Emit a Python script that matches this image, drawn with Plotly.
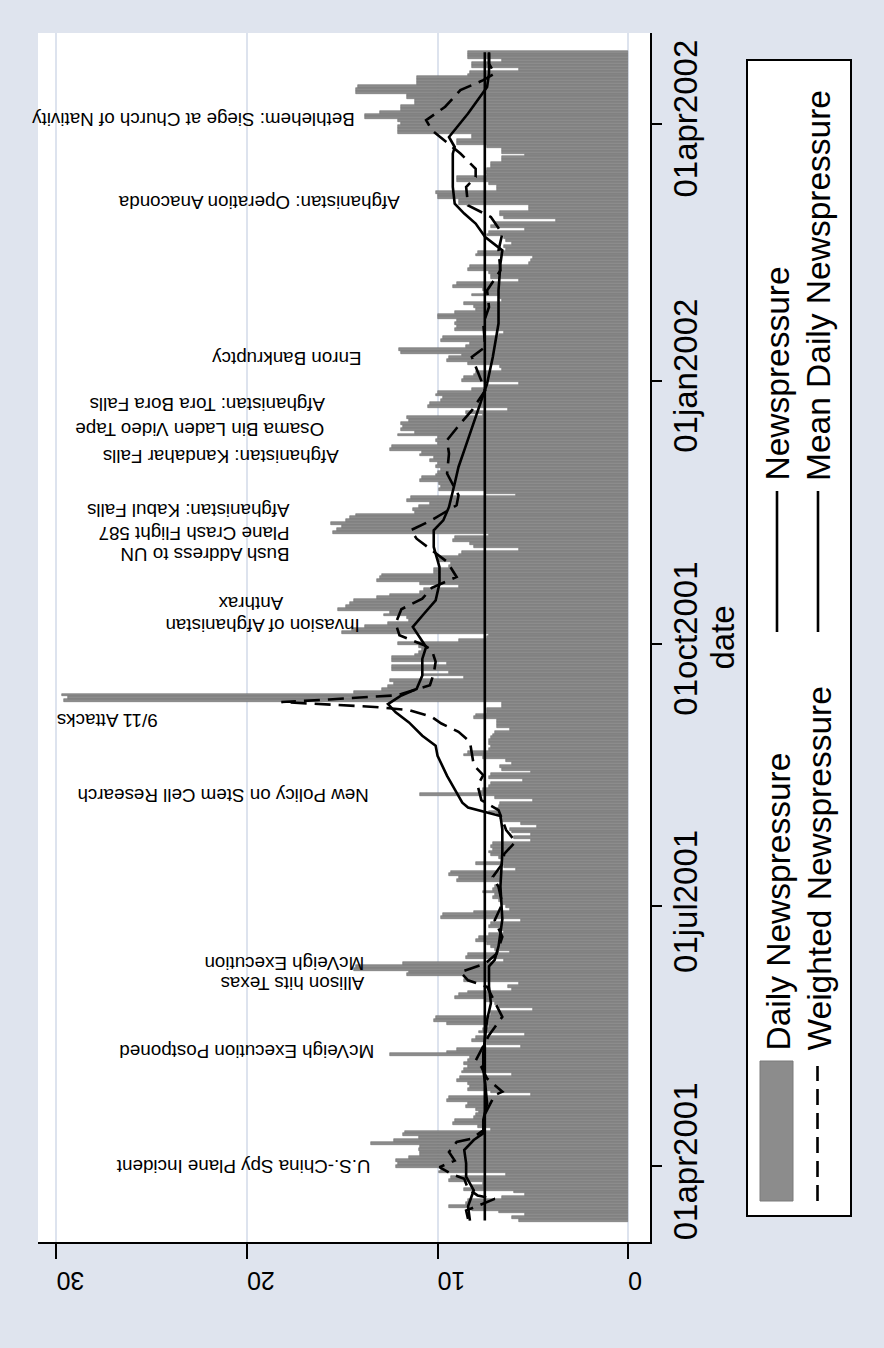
import plotly.graph_objects as go
import pandas as pd

# ---------------- data ----------------
START = "2001-03-13"
daily_newspressure = [
    # Mar 13 2001 ->
    5.7, 6.1, 5.4, 6.8, 8.2, 9.4, 8.5, 8.4, 6.6, 5.4, 6.0, 8.6, 8.2, 7.6, 9.4, 9.3, 6.4, 9.9, 9.8, 12.2,
    12.1, 12.2, 11.5, 10.9, 10.9, 11.0, 10.9, 13.5, 12.3, 11.0, 11.8, 11.7, 7.2, 7.9, 9.2, 9.1, 8.1, 8.0, 7.8, 8.0,
    8.5, 8.4, 9.5, 9.4, 5.1, 7.2, 8.4, 8.3, 8.4, 9.0, 8.8, 6.1, 8.7, 8.6, 8.4,
    8.6, 8.4, 8.3, 12.5, 9.5, 9.0, 5.6, 7.4, 8.2, 8.0, 5.4, 7.8, 7.6, 7.3, 9.5, 10.2, 10.1, 7.2, 7.3, 5.0,
    6.8, 7.0, 7.5, 9.1, 8.9, 8.4, 6.1, 6.3, 5.7, 8.6, 8.5, 11.6, 11.5, 14.4, 14.3, 11.8, 6.5, 8.5, 8.4, 6.2,
    7.0, 7.2, 7.4, 8.0, 7.8, 7.3, 6.5, 6.7, 7.3, 7.2, 5.6, 9.8, 9.7, 8.1, 6.2, 6.4, 6.6, 6.8, 7.1, 7.0,
    7.6, 7.1, 7.0, 6.6, 9.0, 8.9, 9.4, 9.3, 5.9, 6.5, 8.0, 6.6, 6.8, 7.2,
    7.3, 7.1, 7.2, 7.1, 5.1, 6.0, 5.1, 6.1, 6.2, 4.8, 5.6, 6.6, 6.7, 6.9, 7.3, 6.9, 6.8, 6.7, 5.0, 7.0,
    10.9, 7.8, 7.6, 7.3, 7.2, 5.5, 7.3, 7.2, 5.1, 6.6, 6.7, 6.1, 6.4, 7.6, 8.6, 8.4, 7.3, 7.2, 7.3, 7.3,
    7.2, 7.1, 7.0, 6.2, 6.9, 6.9, 6.9, 8.1, 8.0, 7.4, 7.4, 6.6, 6.6,
    29.6, 29.4, 29.7, 14.4, 12.9, 12.6, 12.3, 12.5, 8.6, 10.8, 9.4, 12.4, 12.4, 9.5, 12.4, 12.4, 11.2, 11.0, 10.8, 11.0,
    12.1, 8.9, 7.4, 7.3, 15.0, 14.5, 13.8, 12.6, 11.5, 11.6, 12.8, 12.5, 15.2, 14.8, 14.6, 14.4, 13.2, 12.5, 10.9, 10.7,
    8.9, 10.9, 13.2, 13.0, 12.9, 10.2, 10.2, 9.4, 9.3, 10.0, 9.9, 8.9, 8.7, 5.7, 8.1, 8.3, 9.2, 9.1, 7.3, 15.5,
    15.3, 15.0, 15.6, 14.8, 14.6, 14.3, 11.2, 11.3, 11.0, 10.4, 11.6, 11.4, 5.9, 7.5, 9.9, 9.8, 9.9, 10.9, 10.8, 10.1,
    10.0, 9.8, 10.1, 10.0, 10.4, 10.2, 10.9, 10.8, 12.5, 12.4, 10.0, 10.1, 10.0, 12.1,
    11.2, 11.9, 11.8, 11.9, 11.5, 11.6, 7.6, 8.5, 6.3, 10.5, 10.4, 9.8, 9.7, 10.1, 10.0, 8.2, 7.4, 5.7, 8.7, 8.6,
    8.1, 8.0, 6.6, 6.7, 8.4, 9.5, 9.4, 8.7, 11.9, 12.0, 8.5, 8.3, 9.8, 9.7, 6.8, 6.5, 9.1, 9.0, 9.1, 9.0,
    10.0, 10.0, 9.1, 8.0, 8.1, 8.6, 6.6, 6.7, 8.2, 7.5, 7.6, 9.2, 9.0, 5.7, 7.2, 7.2, 7.3, 8.4, 8.3, 5.2,
    5.1, 5.0, 8.0, 7.9, 6.4, 6.5, 6.1, 6.4, 6.5, 7.4, 7.3, 5.4, 7.2, 7.0,
    3.8, 6.5, 6.7, 6.7, 5.2, 5.2, 8.9, 8.9, 10.0, 10.0, 10.1, 6.9, 6.9, 7.3, 9.0, 9.0, 7.4, 7.5, 7.4, 7.2,
    7.2, 6.6, 6.6, 5.4, 6.6, 6.6, 7.4, 9.0, 9.0, 8.2, 8.2, 12.1, 12.1, 12.1, 11.9, 12.1, 13.8, 13.8, 13.0, 11.9,
    11.9, 11.2, 11.2, 11.6, 11.6, 14.3, 14.3, 14.2, 11.1, 11.1, 11.1, 8.4, 8.3, 5.7, 8.2, 8.2, 6.6, 8.4, 8.4, 8.4,
]

# Newspressure (solid) read at selected days after START
solid_day = [0, 5, 10.6, 15.4, 20, 24.7, 28.2, 30.5, 35.2, 41, 48, 52.7, 58.6, 64.5, 70.3, 76.1, 82, 89,
             91.3, 96, 105.4, 117, 128.8, 137, 141.6, 144.6, 146.3, 149.8, 155.7, 162.7, 166.2, 169.7,
             174.4, 177.9, 180.8, 183.8, 186.1, 190.8, 196.6, 200.8, 207.8, 212.5, 217.1, 223, 228.8,
             235.8, 241.6, 245.1, 249.8, 258, 263.8, 269.6, 275.5, 283.6, 293, 302.3, 314, 325.6, 335,
             339.6, 344.3, 349, 352.5, 356, 361.8, 373.5, 375.8, 379.3, 381.7, 387.5, 396.8, 401.5, 409]
solid_val = [8.3, 8.4, 8.1, 8.5, 8.5, 8.6, 8.1, 7.6, 7.6, 7.4, 7.5, 7.6, 7.6, 7.5, 7.4, 7.2, 7.3, 7.3,
             7.0, 6.8, 6.6, 6.7, 6.6, 6.6, 6.7, 8.4, 8.7, 9.0, 9.5, 10.0, 10.1, 10.8,
             11.5, 12.2, 12.6, 11.9, 11.1, 10.8, 10.8, 10.6, 11.3, 10.7, 10.1, 9.9, 9.9,
             10.2, 10.2, 9.7, 9.4, 9.1, 8.9, 8.6, 8.3, 7.9, 7.4, 7.1, 6.8, 6.8, 6.7,
             6.6, 7.5, 8.0, 8.6, 9.1, 9.2, 9.2, 9.1, 9.4, 9.1, 8.4, 7.4, 7.3, 7.3]

# Weighted Newspressure (dashed) read at selected days after START
weighted_day = [0.6, 3.5, 7.6, 8.8, 11.1, 14.6, 16.4, 18.7, 21, 24, 27.5, 28.7, 31.6, 37.4, 43.9, 45.1,
                49.7, 53.8, 56, 64.9, 71.3, 76.5, 81.8, 84.1, 87, 90, 93.4, 99.3, 105.1, 110.9, 116.8,
                120.3, 124.9, 128.4, 132.6, 136.7, 143.7, 147.2, 152.4, 155.9, 159.4, 163.5, 167.6,
                171.1, 174, 176.3, 178.7, 179.8, 181.5, 182.4, 183.9, 187.4, 191.5, 195.6, 199.7, 201.4,
                204.9, 209, 214, 217.7, 221.5, 225.3, 230.6, 238.7, 241.7, 245.2, 250.4, 253.9, 261.5,
                268.5, 273.2, 279, 283.6, 290.6, 298.8, 302.3, 305.8, 314, 319.8, 325.6, 332.6, 339.6,
                345.5, 351.3, 355.4, 361.8, 365.3, 368.2, 373.5, 381.7, 385.2, 389.9, 395.7, 399.2,
                401.5, 405, 409]
weighted_val = [8.4, 8.5, 7.0, 7.9, 8.4, 8.6, 9.3, 9.9, 9.1, 9.4, 9.0, 8.2, 7.6, 7.5, 7.0, 6.6,
                7.4, 7.7, 8.0, 7.3, 6.6, 7.0, 7.4, 8.4, 8.8, 7.5, 6.9, 6.6, 7.0, 6.6, 6.8,
                7.1, 6.6, 6.5, 5.9, 6.4, 6.8, 7.7, 7.9, 7.6, 8.1, 8.2, 8.3,
                8.9, 9.8, 10.3, 11.5, 13.3, 18.2, 15.7, 12.1, 10.4, 10.2, 10.1, 10.3, 10.7,
                12.0, 12.2, 11.9, 10.8, 10.3, 9.0, 9.5, 11.1, 11.4, 10.3, 9.0, 8.9, 9.5,
                9.4, 9.5, 8.8, 8.2, 7.5, 8.0, 8.2, 7.5, 7.6, 7.3, 7.4, 6.7, 6.8,
                6.6, 7.2, 8.4, 8.5, 8.0, 8.0, 8.8, 10.3, 10.6, 9.6, 8.8, 7.6,
                7.0, 7.3, 7.3]

mean_daily_newspressure = 7.52

date_tick_values = ["2001-04-01", "2001-07-01", "2001-10-01", "2002-01-01", "2002-04-01"]
date_tick_labels = ["01apr2001", "01jul2001", "01oct2001", "01jan2002", "01apr2002"]
value_ticks = [0, 10, 20, 30]

event_labels = ["U.S.-China Spy Plane Incident", "McVeigh Execution Postponed", "Allison hits Texas",
                "McVeigh Execution", "New Policy on Stem Cell Research", "9/11 Attacks",
                "Invasion of Afghanistan", "Anthrax", "Bush Address to UN", "Plane Crash Flight 587",
                "Afghanistan: Kabul Falls", "Afghanistan: Kandahar Falls", "Osama Bin Laden Video Tape",
                "Afghanistan: Tora Bora Falls", "Enron Bankruptcy", "Afghanistan: Operation Anaconda",
                "Bethlehem: Siege at Church of Nativity"]
event_dates = ["2001-04-01", "2001-05-11", "2001-06-04", "2001-06-11", "2001-08-09", "2001-09-04",
               "2001-10-07 12:00", "2001-10-15", "2001-11-01 10:00", "2001-11-08 17:00",
               "2001-11-16 19:00", "2001-12-05 12:00", "2001-12-14 22:00", "2001-12-23 14:00",
               "2002-01-08 17:00", "2002-03-04 14:00", "2002-04-02 10:00"]
event_values = [13.4, 13.2, 13.75, 13.75, 13.5, 24.6, 14.0, 18.0, 17.65, 17.65, 17.65, 15.1, 15.85, 15.8,
                13.9, 11.9, 14.26]

# ---------------- figure ----------------
start = pd.Timestamp(START)
bar_dates = pd.date_range(start, periods=len(daily_newspressure), freq="D")
solid_dates = [start + pd.Timedelta(days=d) for d in solid_day]
weighted_dates = [start + pd.Timedelta(days=d) for d in weighted_day]

FONT = "Liberation Sans, Arial, Helvetica, sans-serif"
BG = "#dfe4ee"
GRID = "#dde3ee"

# plot area in pixels
PL, PR, PT, PB = 38, 650, 33, 1242


def px(x):
    return (x - PL) / (PR - PL)


def py(y):
    return (PB - y) / (PB - PT)


fig = go.Figure()
fig.add_trace(go.Bar(
    x=daily_newspressure, y=bar_dates, orientation="h", width=86400000,
    marker=dict(color="#8c8c8c", line=dict(color="#6e6e6e", width=0.6)),
    showlegend=False, name="Daily Newspressure"))
fig.add_trace(go.Scatter(
    x=weighted_val, y=weighted_dates, mode="lines", showlegend=False,
    line=dict(color="black", width=2.6, dash="16px,8px"), name="Weighted Newspressure"))
fig.add_trace(go.Scatter(
    x=solid_val, y=solid_dates, mode="lines", showlegend=False,
    line=dict(color="black", width=2.6), name="Newspressure"))
fig.add_trace(go.Scatter(
    x=[mean_daily_newspressure, mean_daily_newspressure], y=[bar_dates[0], bar_dates[-1]],
    mode="lines", showlegend=False, line=dict(color="black", width=2.6), name="Mean Daily Newspressure"))

annotations = []
for t, d, v in zip(event_labels, event_dates, event_values):
    annotations.append(dict(x=v, y=d, xref="x", yref="y", text=t, showarrow=False,
                            textangle=180, xanchor="right", yanchor="middle",
                            font=dict(family=FONT, size=18.8, color="black")))

# legend (rotated) built by hand
shapes = [
    dict(type="rect", xref="paper", yref="paper", x0=px(747), x1=px(851), y0=py(1216), y1=py(60),
         line=dict(color="black", width=2), fillcolor="white", layer="below"),
    dict(type="rect", xref="paper", yref="paper", x0=px(760), x1=px(793), y0=py(1201), y1=py(1061),
         line=dict(color="#7a7a7a", width=1), fillcolor="#8c8c8c"),
    dict(type="line", xref="paper", yref="paper", x0=px(817.5), x1=px(817.5), y0=py(1201), y1=py(1066),
         line=dict(color="black", width=2.6, dash="16px,8px")),
    dict(type="line", xref="paper", yref="paper", x0=px(777), x1=px(777), y0=py(632), y1=py(491),
         line=dict(color="black", width=2.6)),
    dict(type="line", xref="paper", yref="paper", x0=px(818), x1=px(818), y0=py(632), y1=py(491),
         line=dict(color="black", width=2.6)),
]
leg_items = [("Daily Newspressure", 777.5, 1053), ("Weighted Newspressure", 818.5, 1053),
             ("Newspressure", 777.5, 483), ("Mean Daily Newspressure", 818.5, 483)]
for t, xx, yy in leg_items:
    annotations.append(dict(x=px(xx), y=py(yy), xref="paper", yref="paper", text=t, showarrow=False,
                            textangle=-90, xanchor="center", yanchor="bottom",
                            font=dict(family=FONT, size=33.5, color="black")))

fig.update_layout(
    width=884, height=1348,
    margin=dict(l=PL, r=884 - PR, t=PT, b=1348 - PB, pad=0),
    paper_bgcolor=BG, plot_bgcolor="white",
    bargap=0, barmode="overlay",
    font=dict(family=FONT, color="black"),
    xaxis=dict(range=[30.97, -1.15], tickvals=value_ticks, ticktext=[str(v) for v in value_ticks],
               tickangle=180, ticks="outside", ticklen=15, tickwidth=2, tickcolor="black",
               ticklabelstandoff=8,
               showline=True, linecolor="black", linewidth=2, showgrid=True, gridcolor=GRID,
               gridwidth=1.5, zeroline=False, tickfont=dict(size=25, family=FONT)),
    yaxis=dict(type="date", side="right", range=["2001-03-05 12:00", "2002-05-02 17:00"],
               tickvals=date_tick_values, ticktext=date_tick_labels, tickangle=-90,
               ticks="outside", ticklen=10, tickwidth=2, tickcolor="black",
               ticklabelstandoff=-5,
               showline=True, linecolor="black", linewidth=2, showgrid=False, zeroline=False,
               tickfont=dict(size=33, family=FONT),
               title=dict(text="date", font=dict(size=33, family=FONT), standoff=4)),
    annotations=annotations, shapes=shapes,
)

fig.write_html("out.html")
